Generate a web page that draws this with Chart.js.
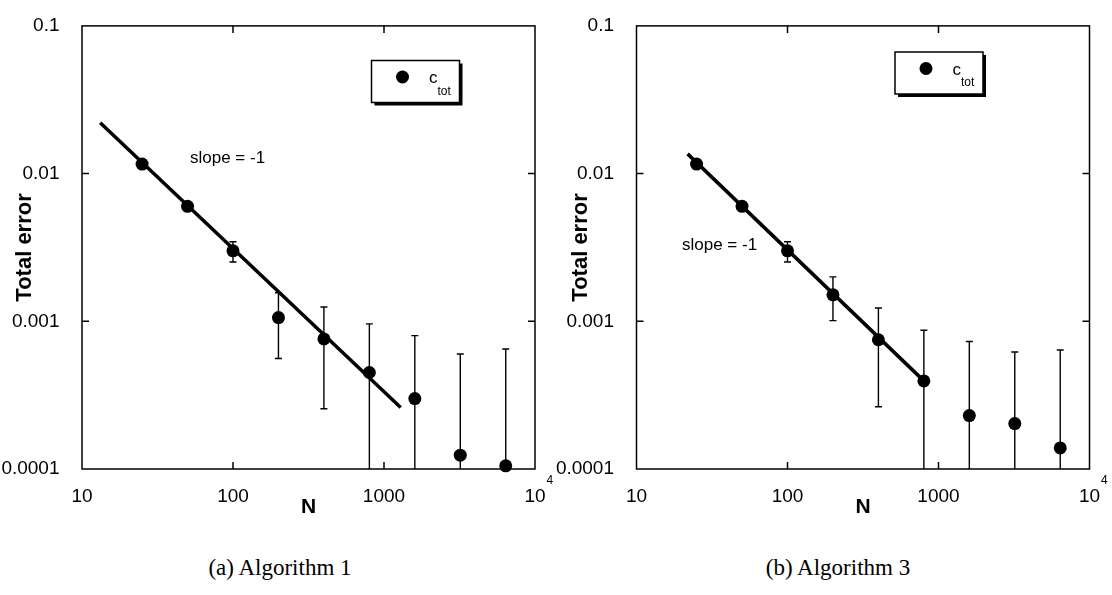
<!DOCTYPE html>
<html lang="en">
<head>
<meta charset="utf-8">
<title>Total error vs N</title>
<script src="https://cdn.jsdelivr.net/npm/chart.js"></script>
<style>
    body {
        margin: 0;
        width: 1112px;
        height: 595px;
        background: #fff;
        position: relative;
        overflow: hidden;
    }
    .panel {
        position: absolute;
        top: 0;
        width: 556px;
        height: 529px;
    }
    .caption {
        position: absolute;
        top: 555px;
        width: 556px;
        text-align: center;
        font-family: 'Liberation Serif', 'Times New Roman', serif;
        font-size: 23px;
        color: #000;
    }
</style>
</head>
<body>

<div class="panel" style="left:0"><canvas id="chartA" width="556" height="529"></canvas></div>
<div class="panel" style="left:556px"><canvas id="chartB" width="556" height="529"></canvas></div>
<div class="caption" style="left:2px">(a) Algorithm 1</div>
<div class="caption" style="left:560px">(b) Algorithm 3</div>

<script>
    // number of samples N
    const nValues = [25, 50, 100, 200, 400, 800, 1600, 3200, 6400];

    // Algorithm 1: mean total error and error bar ends (0 = bar runs below the axis)
    const alg1Error = [0.0116, 0.0060, 0.0030, 0.00106, 0.00076, 0.00045, 0.00030, 0.000124, 0.000105];
    const alg1Upper = [0.0116, 0.0060, 0.00346, 0.00156, 0.00125, 0.00096, 0.00080, 0.00060, 0.00065];
    const alg1Lower = [0.0116, 0.0060, 0.00252, 0.00056, 0.000256, 0, 0, 0, 0];
    const alg1FitN = [13.2, 1290];
    const alg1FitError = [0.0221, 0.000261];

    // Algorithm 3
    const alg3Error = [0.0116, 0.0060, 0.0030, 0.00151, 0.00075, 0.000395, 0.00023, 0.000203, 0.000139];
    const alg3Upper = [0.0116, 0.0060, 0.00346, 0.0020, 0.00123, 0.00087, 0.00073, 0.00062, 0.00064];
    const alg3Lower = [0.0116, 0.0060, 0.00252, 0.00101, 0.000264, 0, 0, 0, 0];
    const alg3FitN = [21.8, 800];
    const alg3FitError = [0.0136, 0.000395];

    const xTicks = [10, 100, 1000, 10000];
    const yTicks = [0.0001, 0.001, 0.01, 0.1];

    const SANS = "'Liberation Sans', Arial, sans-serif";
    Chart.defaults.color = '#000';
    Chart.defaults.font.family = SANS;

    // error bars, frame, inward ticks, legend box and the slope note
    const decorPlugin = {
        id: 'decor',
        beforeDatasetsDraw(chart, args, opts) {
            const {ctx, chartArea: a, scales: {x, y}} = chart;
            ctx.save();
            ctx.strokeStyle = '#000';
            ctx.lineWidth = 1.4;
            opts.n.forEach((n, i) => {
                const px = x.getPixelForValue(n);
                const top = y.getPixelForValue(opts.upper[i]);
                const below = opts.lower[i] <= y.min;
                const bottom = below ? a.bottom : y.getPixelForValue(opts.lower[i]);
                if (bottom - top < 1) return;
                ctx.beginPath();
                ctx.moveTo(px, top);
                ctx.lineTo(px, bottom);
                ctx.moveTo(px - 3.5, top);
                ctx.lineTo(px + 3.5, top);
                if (!below) {
                    ctx.moveTo(px - 3.5, bottom);
                    ctx.lineTo(px + 3.5, bottom);
                }
                ctx.stroke();
            });
            ctx.restore();
        },
        afterDraw(chart, args, opts) {
            const {ctx, chartArea: a, scales: {x, y}} = chart;
            ctx.save();
            ctx.strokeStyle = '#000';
            ctx.lineWidth = 1.5;
            ctx.strokeRect(a.left, a.top, a.right - a.left, a.bottom - a.top);

            // inward ticks on all four sides
            ctx.beginPath();
            xTicks.slice(1, -1).forEach(v => {
                const px = x.getPixelForValue(v);
                ctx.moveTo(px, a.bottom); ctx.lineTo(px, a.bottom - 7);
                ctx.moveTo(px, a.top); ctx.lineTo(px, a.top + 7);
            });
            yTicks.slice(1, -1).forEach(v => {
                const py = y.getPixelForValue(v);
                ctx.moveTo(a.left, py); ctx.lineTo(a.left + 7, py);
                ctx.moveTo(a.right, py); ctx.lineTo(a.right - 7, py);
            });
            ctx.stroke();

            // exponent of the 10^4 label
            const last = xTicks[xTicks.length - 1];
            ctx.font = '19px ' + SANS;
            const baseW = ctx.measureText('10').width;
            ctx.font = '12px ' + SANS;
            ctx.fillStyle = '#000';
            ctx.textAlign = 'left';
            ctx.textBaseline = 'alphabetic';
            ctx.fillText('4', x.getPixelForValue(last) + baseW / 2 + 1, a.bottom + 15);

            // slope note
            ctx.font = '17px ' + SANS;
            ctx.textBaseline = 'middle';
            ctx.fillText('slope = -1', opts.slopeX, opts.slopeY);

            // legend box with drop shadow
            const lx = opts.legendX, ly = opts.legendY, lw = 88, lh = 42;
            ctx.fillStyle = '#000';
            ctx.fillRect(lx + 3, ly + 3, lw, lh);
            ctx.fillStyle = '#fff';
            ctx.fillRect(lx, ly, lw, lh);
            ctx.lineWidth = 1.5;
            ctx.strokeRect(lx, ly, lw, lh);
            ctx.fillStyle = '#000';
            ctx.beginPath();
            ctx.arc(lx + 31, ly + 16.5, 6.5, 0, Math.PI * 2);
            ctx.fill();
            ctx.textBaseline = 'alphabetic';
            ctx.font = '17px ' + SANS;
            ctx.fillText('c', lx + 57.5, ly + 22.5);
            ctx.font = '12px ' + SANS;
            ctx.fillText('tot', lx + 66, ly + 34);
            ctx.restore();
        }
    };

    function makeChart(id, errors, upper, lower, fitN, fitErr, decor, yAxisWidth, padRight) {
        return new Chart(document.getElementById(id), {
            type: 'scatter',
            data: {
                datasets: [
                    {
                        label: 'c_tot',
                        data: nValues.map((n, i) => ({x: n, y: errors[i]})),
                        pointRadius: 6.5,
                        pointHoverRadius: 6.5,
                        pointBackgroundColor: '#000',
                        pointBorderWidth: 0,
                        clip: false
                    },
                    {
                        label: 'fit',
                        data: fitN.map((n, i) => ({x: n, y: fitErr[i]})),
                        showLine: true,
                        borderColor: '#000',
                        borderWidth: 3.5,
                        pointRadius: 0
                    }
                ]
            },
            options: {
                responsive: false,
                animation: false,
                events: [],
                layout: {padding: {top: 15.5, right: padRight, left: 0, bottom: 0}},
                plugins: {
                    legend: {display: false},
                    tooltip: {enabled: false},
                    decor: Object.assign({n: nValues, upper: upper, lower: lower}, decor)
                },
                scales: {
                    x: {
                        type: 'logarithmic',
                        min: 10,
                        max: 10000,
                        grid: {display: false},
                        border: {display: false},
                        afterBuildTicks: s => { s.ticks = xTicks.map(v => ({value: v, major: true})); },
                        afterFit: s => { s.height = 60; },
                        ticks: {
                            font: {size: 19},
                            padding: 8,
                            maxRotation: 0,
                            autoSkip: false,
                            callback: v => v === 10000 ? '10' : String(v)
                        },
                        title: {display: true, text: 'N', font: {size: 21, weight: 'bold'}, padding: {top: 0, bottom: 9}}
                    },
                    y: {
                        type: 'logarithmic',
                        min: 0.0001,
                        max: 0.1,
                        grid: {display: false},
                        border: {display: false},
                        afterBuildTicks: s => { s.ticks = yTicks.map(v => ({value: v, major: true})); },
                        afterFit: s => { s.width = yAxisWidth; },
                        ticks: {
                            font: {size: 19},
                            padding: 14.5,
                            autoSkip: false,
                            callback: v => String(v)
                        },
                        title: {display: true, text: 'Total error', font: {size: 22, weight: 'bold'}, padding: {top: 12, bottom: 0}}
                    }
                }
            },
            plugins: [decorPlugin]
        });
    }

    makeChart('chartA', alg1Error, alg1Upper, alg1Lower, alg1FitN, alg1FitError,
        {legendX: 371.5, legendY: 60.5, slopeX: 190, slopeY: 158}, 82, 21);
    makeChart('chartB', alg3Error, alg3Upper, alg3Lower, alg3FitN, alg3FitError,
        {legendX: 339, legendY: 52, slopeX: 126, slopeY: 245.5}, 80.5, 22.5);
</script>
</body>
</html>
